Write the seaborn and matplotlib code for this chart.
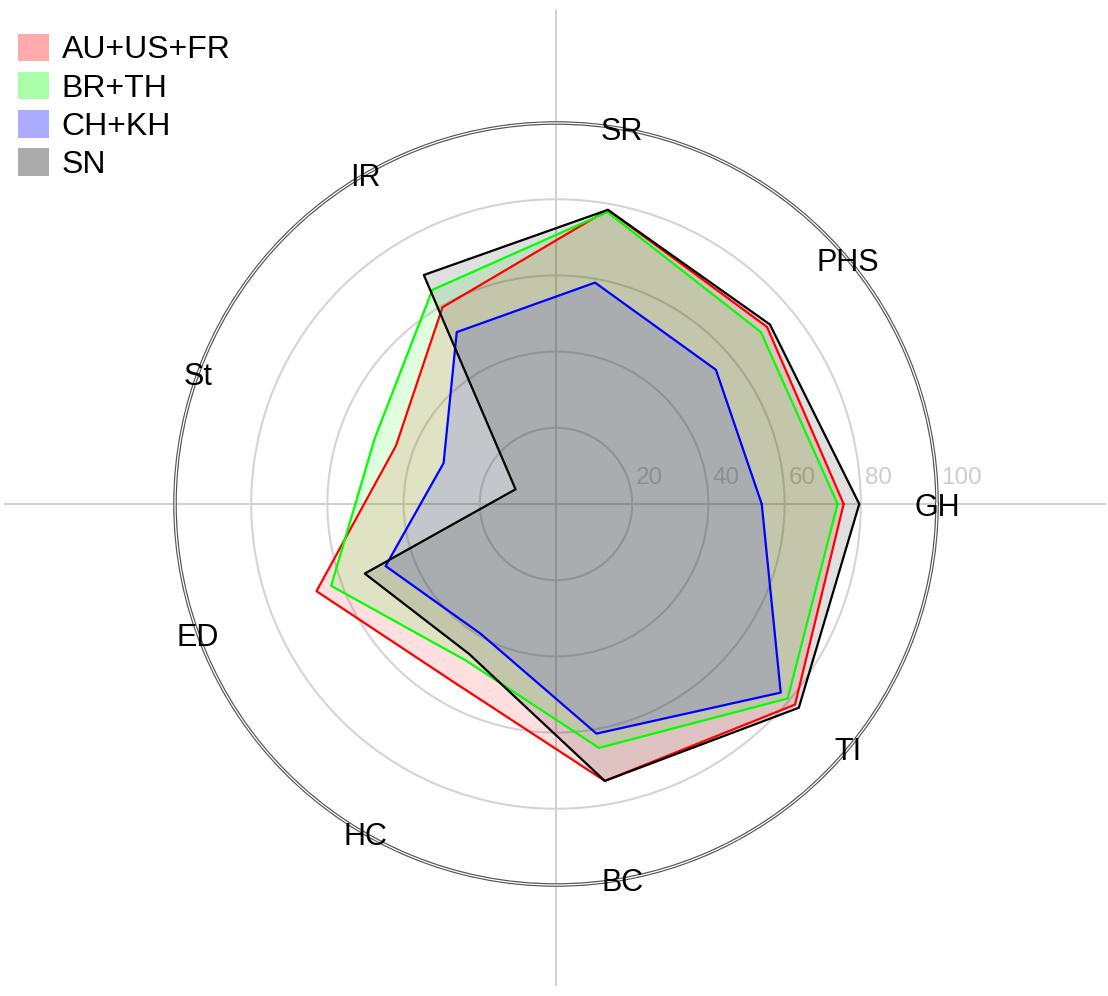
# Radar chart of nine indicators for four country groups
import numpy as np
import matplotlib
matplotlib.use("Agg")
import matplotlib.pyplot as plt
import matplotlib.transforms as mtransforms
from matplotlib.lines import Line2D
from matplotlib.patches import Patch
import seaborn as sns

# Data
categories = ["GH", "PHS", "SR", "IR", "St", "ED", "HC", "BC", "TI"]
au_us_fr = [75.5, 72.3, 78.4, 59.6, 44.7, 66.9, 53.9, 73.8, 81.9]
br_th = [73.9, 70.2, 77.8, 64.9, 50.6, 62.8, 47.4, 65.0, 79.4]
ch_kh = [54.0, 54.8, 59.0, 52.1, 31.4, 47.6, 39.4, 61.2, 77.0]
sn = [79.6, 73.3, 78.4, 69.4, 11.3, 53.4, 45.5, 73.8, 83.2]
series_names = ["AU+US+FR", "BR+TH", "CH+KH", "SN"]
series_values = [au_us_fr, br_th, ch_kh, sn]
series_colors = ["#ff0000", "#00ff00", "#0000ff", "#000000"]
ring_ticks = [20, 40, 60, 80, 100]

sns.set_theme(style="white")
plt.rcParams["font.family"] = ["Liberation Sans", "DejaVu Sans"]
plt.rcParams["text.color"] = "black"

W, H = 1108, 996
fig = plt.figure(figsize=(W / 100, H / 100), dpi=100)

# centre of the radar in pixels and radius of the outer ring
cx, cy, rad = 556, 504, 381

# full-width cross lines behind the chart
fig.add_artist(Line2D([5 / W, 1105 / W], [1 - cy / H, 1 - cy / H],
                      transform=fig.transFigure, color="#d2d2d2", lw=1.5, zorder=-1))
fig.add_artist(Line2D([cx / W, cx / W], [1 - 10 / H, 1 - 985 / H],
                      transform=fig.transFigure, color="#d2d2d2", lw=1.5, zorder=-1))

ax = fig.add_axes([(cx - rad) / W, (H - cy - rad) / H, 2 * rad / W, 2 * rad / H],
                  projection="polar")
ax.patch.set_alpha(0)
ax.set_ylim(0, 100)
ax.set_xticks([])
ax.set_yticks(ring_ticks[:-1])
ax.set_yticklabels([])
ax.yaxis.grid(True, color="#d4d4d4", lw=1.5)

# double outer ring
ax.spines["polar"].set_color("#555555")
ax.spines["polar"].set_linewidth(2.6)
ring = np.linspace(0, 2 * np.pi, 500)
ax.plot(ring, np.full_like(ring, 100), color="white", lw=0.9, clip_on=False, zorder=3)

angles = np.deg2rad(np.arange(len(categories)) * 360 / len(categories))
closed = np.append(angles, angles[0])

for name, vals, col in zip(series_names, series_values, series_colors):
    v = np.append(vals, vals[0])
    ax.fill(closed, v, color=col, alpha=0.125, lw=0, zorder=2)
    ax.plot(closed, v, color=col, lw=1.6, zorder=4)

# radial value labels
off = mtransforms.ScaledTranslation(4 / 100, 20 / 100, fig.dpi_scale_trans)
for t in ring_ticks:
    ax.text(0, t, str(t), transform=ax.transData + off, ha="left", va="baseline",
            fontsize=17.5, color="#cccccc", zorder=1)

# category labels on the outer ring
for a, c in zip(angles, categories):
    ax.text(a, 100, c, ha="center", va="center_baseline", fontsize=22,
            color="black", zorder=6)

handles = [Patch(facecolor=c, alpha=0.33, edgecolor="none") for c in series_colors]
fig.legend(handles, series_names, loc="upper left", bbox_to_anchor=(0.005, 0.979),
           frameon=False, fontsize=23, handlelength=0.95, handleheight=0.95,
           handletextpad=0.4, labelspacing=0.2, borderaxespad=0, labelcolor="black")

fig.savefig("out.png", dpi=100)
